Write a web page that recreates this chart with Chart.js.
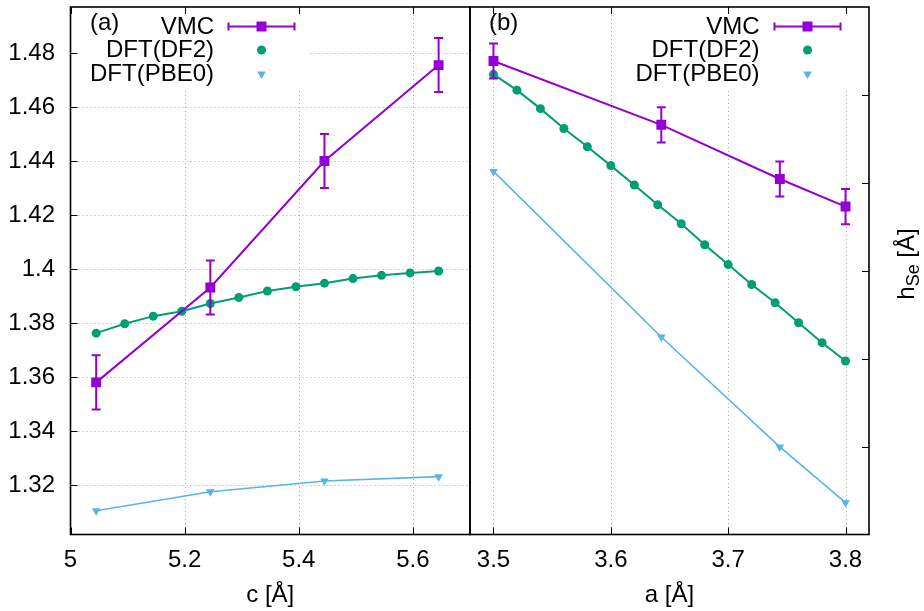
<!DOCTYPE html>
<html>
<head>
<meta charset="utf-8">
<script src="https://cdn.jsdelivr.net/npm/chart.js@4.4.1/dist/chart.umd.min.js"></script>
<style>
  html, body { margin: 0; padding: 0; background: #ffffff; }
  #wrap { position: relative; width: 924px; height: 611px; }
  #wrap canvas { position: absolute; left: 0; top: 0; }
</style>
</head>
<body>
<div id="wrap">
  <canvas id="panelA" width="924" height="611"></canvas>
  <canvas id="panelB" width="924" height="611"></canvas>
</div>
<script>
// ---- panel (a): h_Se versus lattice constant c ----
const cVmc   = [5.045, 5.245, 5.445, 5.645];
const hVmcC  = [1.3581, 1.3932, 1.4400, 1.4755];
const eVmcC  = [0.010, 0.010, 0.010, 0.010];
const cDf2   = [5.045, 5.095, 5.145, 5.195, 5.245, 5.295, 5.345, 5.395, 5.445, 5.495, 5.545, 5.595, 5.645];
const hDf2C  = [1.3763, 1.3798, 1.3826, 1.3844, 1.3873, 1.3895, 1.3919, 1.3935, 1.3948, 1.3965, 1.3977, 1.3986, 1.3993];
const cPbe0  = [5.045, 5.245, 5.445, 5.645];
const hPbe0C = [1.3106, 1.3176, 1.3216, 1.3232];

// ---- panel (b): h_Se versus lattice constant a ----
const aVmc   = [3.500, 3.643, 3.744, 3.800];
const hVmcA  = [1.4693, 1.4330, 1.4022, 1.3865];
const eVmcA  = [0.010, 0.010, 0.010, 0.010];
const aDf2   = [3.50, 3.52, 3.54, 3.56, 3.58, 3.60, 3.62, 3.64, 3.66, 3.68, 3.70, 3.72, 3.74, 3.76, 3.78, 3.80];
const hDf2A  = [1.4617, 1.4527, 1.4422, 1.4309, 1.4205, 1.4098, 1.3988, 1.3875, 1.3767, 1.3648, 1.3535, 1.3422, 1.3318, 1.3204, 1.3091, 1.2987];
const aPbe0  = [3.500, 3.643, 3.744, 3.800];
const hPbe0A = [1.4065, 1.3123, 1.2498, 1.2181];

// ---- ticks ----
const cTicks  = [5.0, 5.2, 5.4, 5.6];
const hTicksC = [1.32, 1.34, 1.36, 1.38, 1.40, 1.42, 1.44, 1.46, 1.48];
const aTicks  = [3.5, 3.6, 3.7, 3.8];
const hTicksA = [1.25, 1.30, 1.35, 1.40, 1.45];

const seriesNames = ['VMC', 'DFT(DF2)', 'DFT(PBE0)'];
const colVmc = '#9400d3', colDf2 = '#009e73', colPbe0 = '#56b4e9';

const FONT = "'Liberation Sans', Arial, Helvetica, sans-serif";
const FS = 24;
Chart.defaults.font.family = FONT;
Chart.defaults.font.size = FS;
Chart.defaults.color = '#000000';

const pts = (xs, ys) => xs.map((x, i) => ({ x: x, y: ys[i] }));
const fmt = v => String(+Number(v).toFixed(4));

function makeDatasets(xV, yV, eV, xD, yD, xP, yP) {
  return [
    { label: seriesNames[0], data: pts(xV, yV), errors: eV, borderColor: colVmc, backgroundColor: colVmc,
      borderWidth: 2, pointStyle: 'rect', pointRadius: 7, pointBorderWidth: 0, tension: 0 },
    { label: seriesNames[1], data: pts(xD, yD), borderColor: colDf2, backgroundColor: colDf2,
      borderWidth: 2, pointStyle: 'circle', pointRadius: 4.5, pointBorderWidth: 0, tension: 0 },
    { label: seriesNames[2], data: pts(xP, yP), borderColor: colPbe0, backgroundColor: colPbe0,
      borderWidth: 1.6, pointStyle: 'triangle', pointRotation: 180, pointRadius: 5, pointBorderWidth: 0, tension: 0 }
  ];
}

// marker used in the key
function drawMarker(ctx, kind, x, y, color) {
  ctx.save();
  ctx.fillStyle = color;
  ctx.beginPath();
  if (kind === 'rect') {
    ctx.rect(x - 5, y - 5, 10, 10);
  } else if (kind === 'circle') {
    ctx.arc(x, y, 4.5, 0, Math.PI * 2);
  } else {
    const r = 5;
    ctx.moveTo(x, y + r);
    ctx.lineTo(x - r * 0.866, y - r * 0.5);
    ctx.lineTo(x + r * 0.866, y - r * 0.5);
    ctx.closePath();
  }
  ctx.fill();
  ctx.restore();
}

function decorPlugin(cfg) {
  return {
    id: 'decor_' + cfg.tag,
    beforeDatasetsDraw(chart) {
      const { ctx, chartArea: ca, scales } = chart;
      ctx.save();
      ctx.strokeStyle = '#a8a8a8';
      ctx.lineWidth = 1;
      ctx.setLineDash([1, 3]);
      // vertical grid
      cfg.xTicks.forEach(v => {
        const px = Math.round(scales.x.getPixelForValue(v)) + 0.5;
        if (px <= ca.left + 1 || px >= ca.right - 1) return;
        ctx.beginPath(); ctx.moveTo(px, ca.top); ctx.lineTo(px, ca.bottom); ctx.stroke();
      });
      // horizontal grid
      if (cfg.hGrid) {
        cfg.yTicks.forEach(v => {
          const py = Math.round(scales.y.getPixelForValue(v)) + 0.5;
          ctx.beginPath(); ctx.moveTo(ca.left, py); ctx.lineTo(ca.right, py); ctx.stroke();
        });
      }
      ctx.setLineDash([]);
      // opaque key box
      ctx.fillStyle = '#ffffff';
      ctx.fillRect(cfg.keyBox[0], ca.top, cfg.keyBox[1] - cfg.keyBox[0], cfg.keyBox[2] - ca.top);
      ctx.restore();
    },
    afterDatasetsDraw(chart) {
      const { ctx, chartArea: ca, scales } = chart;
      ctx.save();
      // error bars of the VMC series
      const ds = chart.data.datasets[0];
      ctx.strokeStyle = colVmc;
      ctx.lineWidth = 2;
      ds.data.forEach((p, i) => {
        const px = scales.x.getPixelForValue(p.x);
        const yt = scales.y.getPixelForValue(p.y + ds.errors[i]);
        const yb = scales.y.getPixelForValue(p.y - ds.errors[i]);
        ctx.beginPath();
        ctx.moveTo(px, yt); ctx.lineTo(px, yb);
        ctx.moveTo(px - 4.5, yt); ctx.lineTo(px + 4.5, yt);
        ctx.moveTo(px - 4.5, yb); ctx.lineTo(px + 4.5, yb);
        ctx.stroke();
      });
      // inward tick marks
      ctx.strokeStyle = '#000000';
      ctx.lineWidth = 1;
      const TL = 7;
      cfg.xTicks.forEach(v => {
        const px = Math.round(scales.x.getPixelForValue(v)) + 0.5;
        ctx.beginPath();
        ctx.moveTo(px, ca.bottom); ctx.lineTo(px, ca.bottom - TL);
        ctx.moveTo(px, ca.top); ctx.lineTo(px, ca.top + TL);
        ctx.stroke();
      });
      cfg.yTicks.forEach(v => {
        const py = Math.round(scales.y.getPixelForValue(v)) + 0.5;
        ctx.beginPath();
        if (cfg.yTickSide === 'left') { ctx.moveTo(ca.left, py); ctx.lineTo(ca.left + TL, py); }
        else { ctx.moveTo(ca.right, py); ctx.lineTo(ca.right - TL, py); }
        ctx.stroke();
      });
      // frame
      ctx.lineWidth = 1.6;
      ctx.strokeRect(ca.left, ca.top, ca.right - ca.left, ca.bottom - ca.top);

      // panel label
      ctx.fillStyle = '#000000';
      ctx.font = FS + 'px ' + FONT;
      ctx.textBaseline = 'alphabetic';
      ctx.textAlign = 'left';
      ctx.fillText(cfg.panel, cfg.panelX, 30);

      // key
      const rows = [26.5, 50, 74];
      ctx.textAlign = 'right';
      ctx.textBaseline = 'middle';
      seriesNames.forEach((n, i) => ctx.fillText(n, cfg.keyText, rows[i] + 0.5));
      const [s0, s1] = cfg.keySample;
      const sm = (s0 + s1) / 2;
      ctx.strokeStyle = colVmc;
      ctx.lineWidth = 2;
      ctx.beginPath();
      ctx.moveTo(s0, rows[0]); ctx.lineTo(s1, rows[0]);
      ctx.moveTo(s0, rows[0] - 4); ctx.lineTo(s0, rows[0] + 4);
      ctx.moveTo(s1, rows[0] - 4); ctx.lineTo(s1, rows[0] + 4);
      ctx.stroke();
      drawMarker(ctx, 'rect', sm, rows[0], colVmc);
      drawMarker(ctx, 'circle', sm, rows[1], colDf2);
      drawMarker(ctx, 'triangle', sm, rows[2], colPbe0);

      // rotated y title with subscript
      if (cfg.yTitle) {
        ctx.save();
        ctx.translate(914, 264);
        ctx.rotate(-Math.PI / 2);
        ctx.textBaseline = 'alphabetic';
        ctx.textAlign = 'left';
        const big = FS + 'px ' + FONT, small = '18px ' + FONT;
        ctx.font = big; const w1 = ctx.measureText('h').width;
        ctx.font = small; const w2 = ctx.measureText('Se').width;
        ctx.font = big; const w3 = ctx.measureText(' [\u00c5]').width;
        let x0 = -(w1 + w2 + w3) / 2;
        ctx.font = big; ctx.fillText('h', x0, 0); x0 += w1;
        ctx.font = small; ctx.fillText('Se', x0, 5); x0 += w2;
        ctx.font = big; ctx.fillText(' [\u00c5]', x0, 0);
        ctx.restore();
      }
      ctx.restore();
    }
  };
}

function noEdgePadding(s) {
  s.paddingTop = 0; s.paddingBottom = 0; s.paddingLeft = 0; s.paddingRight = 0;
}

function baseOptions(o) {
  return {
    responsive: false,
    animation: false,
    events: [],
    layout: { padding: o.padding },
    plugins: { legend: { display: false }, tooltip: { enabled: false }, title: { display: false } },
    scales: {
      x: {
        type: 'linear', position: 'bottom', min: o.xMin, max: o.xMax,
        grid: { display: false, drawTicks: false }, border: { display: false },
        afterBuildTicks: s => { s.ticks = o.xTicks.map(v => ({ value: v })); },
        afterFit: s => { s.height = 76.5; noEdgePadding(s); },
        ticks: { padding: 11, maxRotation: 0, autoSkip: false, callback: fmt, font: { size: FS } },
        title: { display: true, text: o.xTitle, font: { size: FS }, padding: { top: 0, bottom: 1 } }
      },
      y: {
        type: 'linear', position: o.yPos, min: o.yMin, max: o.yMax,
        grid: { display: false, drawTicks: false }, border: { display: false },
        afterBuildTicks: s => { s.ticks = o.yTicks.map(v => ({ value: v })); },
        afterFit: s => { s.width = o.yWidth; noEdgePadding(s); },
        ticks: { display: o.yLabels, padding: 15.5, autoSkip: false, callback: fmt, font: { size: FS } }
      }
    }
  };
}

new Chart(document.getElementById('panelA'), {
  type: 'line',
  data: { datasets: makeDatasets(cVmc, hVmcC, eVmcC, cDf2, hDf2C, cPbe0, hPbe0C) },
  options: baseOptions({ padding: { left: 0, top: 5.5, right: 454, bottom: 0 },
    xMin: 5.0, xMax: 5.7, xTicks: cTicks, xTitle: 'c [\u00c5]',
    yMin: 1.3018, yMax: 1.497, yTicks: hTicksC, yPos: 'left', yWidth: 70.5, yLabels: true }),
  plugins: [decorPlugin({ tag: 'a', xTicks: cTicks, yTicks: hTicksC, hGrid: true, yTickSide: 'left',
    keyBox: [70.5, 308, 89], keyText: 214, keySample: [228.5, 294.5], panel: '(a)', panelX: 90, yTitle: false })]
});

new Chart(document.getElementById('panelB'), {
  type: 'line',
  data: { datasets: makeDatasets(aVmc, hVmcA, eVmcA, aDf2, hDf2A, aPbe0, hPbe0A) },
  options: baseOptions({ padding: { left: 470, top: 5.5, right: 0, bottom: 0 },
    xMin: 3.48, xMax: 3.82, xTicks: aTicks, xTitle: 'a [\u00c5]',
    yMin: 1.20, yMax: 1.50, yTicks: hTicksA, yPos: 'right', yWidth: 55, yLabels: false }),
  plugins: [decorPlugin({ tag: 'b', xTicks: aTicks, yTicks: hTicksA, hGrid: false, yTickSide: 'right',
    keyBox: [624, 858, 89], keyText: 759.5, keySample: [774.5, 840.5], panel: '(b)', panelX: 489, yTitle: true })]
});
</script>
</body>
</html>
